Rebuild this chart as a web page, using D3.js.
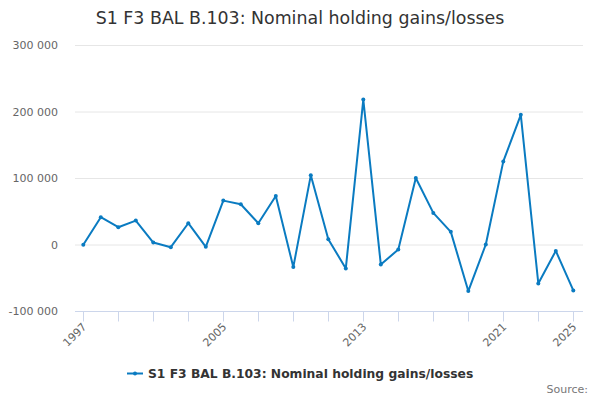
<!DOCTYPE html>
<html>
<head>
<meta charset="utf-8">
<script src="https://cdn.jsdelivr.net/npm/d3@7"></script>
<style>
  body { margin: 0; background: #fff; }
  svg { font-family: "DejaVu Sans", sans-serif; }
</style>
</head>
<body>
<div id="chart"></div>
<script>
// Data
var years = [1997, 1998, 1999, 2000, 2001, 2002, 2003, 2004, 2005, 2006,
             2007, 2008, 2009, 2010, 2011, 2012, 2013, 2014, 2015, 2016,
             2017, 2018, 2019, 2020, 2021, 2022, 2023, 2024, 2025];
var values = [-500, 41000, 26000, 36000, 3000, -4000, 32000, -3500, 66000, 60500,
              32000, 73000, -34000, 104000, 8000, -36000, 218000, -30000, -7600, 100000,
              47500, 19000, -70000, 0, 125000, 195000, -58500, -9600, -69000];
var yTicks = [-100000, 0, 100000, 200000, 300000];
var xLabelYears = [1997, 2005, 2013, 2021, 2025];

var title = "S1 F3 BAL B.103: Nominal holding gains/losses";
var lineColor = "#0a7bc1";

var width = 600, height = 400;
var margin = { top: 45, right: 17, bottom: 89, left: 75 };

var svg = d3.select("#chart").append("svg")
    .attr("width", width)
    .attr("height", height);

var x = d3.scaleLinear()
    .domain([1997, 2025])
    .range([83.3, 573.3]);

var y = d3.scaleLinear()
    .domain([-100000, 300000])
    .range([height - margin.bottom, margin.top]);

// space as thousands separator, plain hyphen for negatives
var fmt = function (d) {
  return d3.format(",")(d).replace(/,/g, " ").replace("\u2212", "-");
};

// Gridlines
svg.append("g").selectAll("line")
    .data(yTicks.filter(function (d) { return d !== -100000; }))
    .enter().append("line")
    .attr("x1", margin.left)
    .attr("x2", width - margin.right)
    .attr("y1", function (d) { return y(d) + 0.5; })
    .attr("y2", function (d) { return y(d) + 0.5; })
    .attr("stroke", "#e6e6e6")
    .attr("stroke-width", 1);

// Y labels
svg.append("g").selectAll("text")
    .data(yTicks)
    .enter().append("text")
    .attr("x", 58)
    .attr("y", function (d) { return y(d) + 4; })
    .attr("text-anchor", "end")
    .attr("fill", "#666")
    .style("font-size", "11px")
    .text(fmt);

// X axis line and ticks
var axisY = y(-100000) + 0.5;
svg.append("line")
    .attr("x1", margin.left)
    .attr("x2", width - margin.right)
    .attr("y1", axisY)
    .attr("y2", axisY)
    .attr("stroke", "#ccd6eb");

svg.append("g").selectAll("line")
    .data(years.filter(function (d) { return (d - 1997) % 2 === 0; }))
    .enter().append("line")
    .attr("x1", function (d) { return Math.round(x(d)) + 0.5; })
    .attr("x2", function (d) { return Math.round(x(d)) + 0.5; })
    .attr("y1", axisY)
    .attr("y2", axisY + 10)
    .attr("stroke", "#ccd6eb");

svg.append("g").selectAll("text")
    .data(xLabelYears)
    .enter().append("text")
    .attr("transform", function (d) {
      return "translate(" + (x(d) + 4) + "," + (axisY + 16) + ") rotate(-45)";
    })
    .attr("text-anchor", "end")
    .attr("fill", "#666")
    .style("font-size", "11px")
    .text(function (d) { return d; });

// Line series
var series = years.map(function (yr, i) { return { year: yr, value: values[i] }; });

svg.append("path")
    .datum(series)
    .attr("fill", "none")
    .attr("stroke", lineColor)
    .attr("stroke-width", 2)
    .attr("stroke-linejoin", "round")
    .attr("d", d3.line()
      .x(function (d) { return x(d.year); })
      .y(function (d) { return y(d.value); }));

svg.append("g").selectAll("circle")
    .data(series)
    .enter().append("circle")
    .attr("cx", function (d) { return x(d.year); })
    .attr("cy", function (d) { return y(d.value); })
    .attr("r", 2)
    .attr("fill", lineColor);

// Title
svg.append("text")
    .attr("x", width / 2)
    .attr("y", 24)
    .attr("text-anchor", "middle")
    .attr("fill", "#333")
    .style("font-size", "17.4px")
    .text(title);

// Legend
var legend = svg.append("g").attr("transform", "translate(0,373.5)");
legend.append("line")
    .attr("x1", 127).attr("x2", 143)
    .attr("y1", 0).attr("y2", 0)
    .attr("stroke", lineColor)
    .attr("stroke-width", 2);
legend.append("circle")
    .attr("cx", 135).attr("cy", 0).attr("r", 2)
    .attr("fill", lineColor);
legend.append("text")
    .attr("x", 148)
    .attr("y", 4.3)
    .attr("fill", "#333")
    .style("font-size", "12.3px")
    .style("font-weight", "bold")
    .text(title);

// Source credit
svg.append("text")
    .attr("x", 588)
    .attr("y", 393)
    .attr("text-anchor", "end")
    .attr("fill", "#777")
    .style("font-size", "11px")
    .text("Source:");
</script>
</body>
</html>
